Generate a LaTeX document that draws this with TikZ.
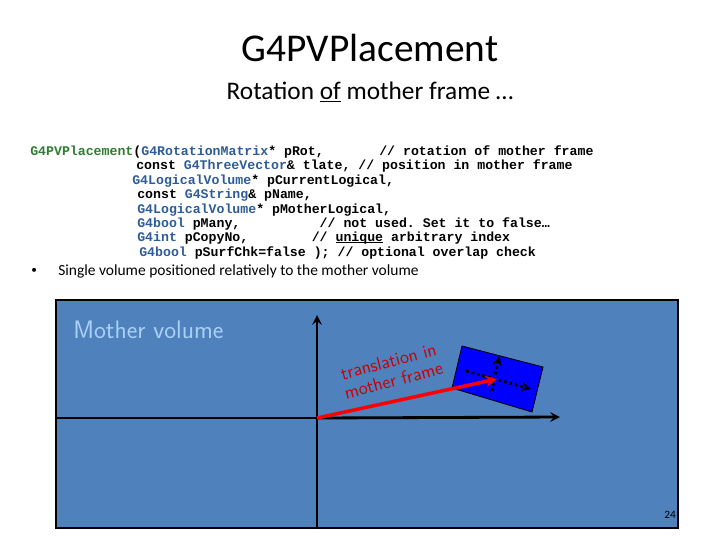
\documentclass[tikz,border=0pt]{standalone}
\usepackage{fontspec}
\usepackage{calc}
\setmainfont{Carlito}
\setmonofont{Liberation Mono}
\definecolor{panelblue}{HTML}{4F81BD}
\definecolor{typeblue}{HTML}{2E5C99}
\definecolor{ctorgreen}{HTML}{2E7D32}
\definecolor{mothertext}{HTML}{A8D0F8}
\newcommand{\ty}[1]{\textcolor{typeblue}{#1}}
\newcommand{\gap}[1]{\hspace*{#1\fontcharwd\font`\ }}
\newcommand{\uln}[1]{\leavevmode\rlap{\rule[-1.2pt]{\widthof{#1}}{0.6pt}}#1}
\tikzset{
  codeline/.style={anchor=west, inner sep=0pt, font=\ttfamily\bfseries\fontsize{9.4}{11}\selectfont},
  axis/.style={line width=2pt, -stealth},
  dotarrow/.style={line width=2pt, dotted, -stealth}
}
\begin{document}
\begin{tikzpicture}[x=0.025cm,y=-0.025cm]
    \useasboundingbox (0,0) rectangle (720,540);

    % Title
    \node (title) at (370,48) {\fontsize{28}{32}\selectfont G4PVPlacement};
    \node (subtitle) at (370,92) {\fontsize{18}{22}\selectfont Rotation \underline{of} mother frame \dots};

    % Constructor
    \node[codeline] (c1) at (30,152) {\textcolor{ctorgreen}{G4PVPlacement}(\ty{G4RotationMatrix}* pRot,\gap{7}// rotation of mother frame};
    \node[codeline] (c2) at (136,166) {const \ty{G4ThreeVector}\& tlate, // position in mother frame};
    \node[codeline] (c3) at (132,181) {\ty{G4LogicalVolume}* pCurrentLogical,};
    \node[codeline] (c4) at (137,195) {const \ty{G4String}\& pName,};
    \node[codeline] (c5) at (137,210) {\ty{G4LogicalVolume}* pMotherLogical,};
    \node[codeline] (c6) at (137,224) {\ty{G4bool} pMany,\gap{10}// not used. Set it to false\dots};
    \node[codeline] (c7) at (137,238) {\ty{G4int} pCopyNo,\gap{8}// \uln{unique} arbitrary index};
    \node[codeline] (c8) at (139,253) {\ty{G4bool} pSurfChk=false ); // optional overlap check};

    % Bullet
    \node[anchor=west, inner sep=0pt] (bullet) at (31,271) {\fontsize{8}{10}\selectfont\textbullet};
    \node[anchor=west, inner sep=0pt] (single) at (58,271) {\fontsize{11}{13}\selectfont Single volume positioned relatively to the mother volume};

    % Mother volume panel
    \draw[fill=panelblue, line width=0.8pt] (56,300) rectangle (678,528);
    \node[anchor=west, inner sep=0pt, text=mothertext] (mother) at (73,330) {\fontsize{18}{20}\selectfont\sffamily Mother volume};

    % Axes of mother frame
    \coordinate (origin) at (317,418);
    \coordinate (xend) at (560,417);
    \coordinate (ytop) at (317,315);
    \coordinate (ybot) at (317,528);
    \coordinate (xbeg) at (56,418);
    \draw[line width=2pt] (ybot) -- (origin);
    \draw[axis] (origin) -- (ytop);
    \draw[line width=2pt] (xbeg) -- (origin);
    \draw[axis] (origin) -- (xend);

    % Daughter volume
    \draw[fill=blue, line width=0.6pt] (462,346) -- (543,367) -- (532,412) -- (452,388) -- cycle;
    \coordinate (dcenter) at (497,379);
    \draw[dotarrow] (466,371) -- (531,389);
    \draw[dotarrow] (492,391) -- (499,356);

    % Translation vector
    \draw[red, line width=2.5pt, -stealth] (origin) -- (dcenter);
    \node[red!80!black, rotate=15, align=center, inner sep=0pt, font=\sffamily\fontsize{13}{14}\selectfont] (trans) at (391,371) {translation in\\mother frame};

    % Page number
    \node[font=\fontsize{8}{10}\selectfont] (page) at (670,515) {24};
\end{tikzpicture}
\end{document}
